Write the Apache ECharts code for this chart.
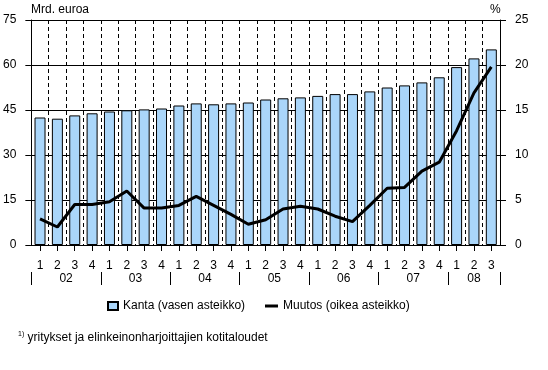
<!DOCTYPE html>
<html><head><meta charset="utf-8">
<script src="https://cdn.jsdelivr.net/npm/echarts@6/dist/echarts.min.js"></script>
<style>html,body{margin:0;padding:0;background:#fff}#c{width:548px;height:370px}</style>
</head><body><div id="c"></div>
<script>
var quarters = ['1','2','3','4','1','2','3','4','1','2','3','4','1','2','3','4','1','2','3','4','1','2','3','4','1','2','3'];
var years = ['02','03','04','05','06','07','08'];
var kanta = [42.5, 42.1, 43.2, 43.9, 44.5, 44.9, 45.2, 45.5, 46.5, 47.2, 46.9, 47.2, 47.5, 48.5, 48.9, 49.2, 49.7, 50.3, 50.3, 51.2, 52.5, 53.2, 54.2, 55.9, 59.3, 62.2, 65.2];
var muutos = [2.9, 2.0, 4.5, 4.5, 4.8, 6.0, 4.1, 4.1, 4.4, 5.4, 4.4, 3.4, 2.3, 2.8, 4.0, 4.3, 4.0, 3.2, 2.6, 4.4, 6.3, 6.4, 8.2, 9.2, 12.7, 16.9, 19.8];
var leftTicks = [0, 15, 30, 45, 60, 75];
var rightTicks = [0, 5, 10, 15, 20, 25];
var nameKanta = 'Kanta (vasen asteikko)';
var nameMuutos = 'Muutos (oikea asteikko)';

// year boundaries derived from the quarter list
var bounds = [];
quarters.forEach(function (q, i) { if (q === '1') bounds.push(i); });
bounds.push(quarters.length);
var yearCenters = [];
for (var k = 0; k < years.length; k++) yearCenters.push((bounds[k] + bounds[k + 1]) / 2);
var boundaryPoints = [];
for (var b = 0; b <= quarters.length; b++) boundaryPoints.push(String(b));

var FONT = 'Liberation Sans, Arial, sans-serif';
var chart = echarts.init(document.getElementById('c'), null, {renderer: 'canvas'});
chart.setOption({
  animation: false,
  backgroundColor: '#ffffff',
  textStyle: {fontFamily: FONT, color: '#000'},
  title: [
    {text: 'Mrd. euroa', left: 31, top: 4, padding: 0, textStyle: {fontFamily: FONT, fontSize: 12, fontWeight: 'normal', color: '#000'}},
    {text: '%', left: 490, top: 4, padding: 0, textStyle: {fontFamily: FONT, fontSize: 12, fontWeight: 'normal', color: '#000'}},
    {text: '{s|1)} yritykset ja elinkeinonharjoittajien kotitaloudet', left: 18, top: 331, padding: 0,
      textStyle: {fontFamily: FONT, fontSize: 12, fontWeight: 'normal', color: '#000',
        rich: {s: {fontSize: 7, verticalAlign: 'top', padding: [0, 0, 6, 0], fontFamily: FONT, color: '#000'}}}}
  ],
  legend: [
    {data: [{name: nameKanta, icon: 'rect'}], left: 107, top: 300, padding: 0, itemWidth: 10, itemHeight: 8, itemGap: 3,
      textStyle: {fontFamily: FONT, fontSize: 12, color: '#000'}},
    {data: [{name: nameMuutos, icon: 'rect'}], left: 265, top: 300, padding: 0, itemWidth: 13, itemHeight: 3, itemGap: 3,
      textStyle: {fontFamily: FONT, fontSize: 12, color: '#000'}}
  ],
  grid: {left: 29, right: 48, top: 20, bottom: 125, containLabel: false},
  xAxis: [
    {type: 'category', data: quarters, boundaryGap: true,
      axisLine: {show: true, lineStyle: {color: '#000', width: 1}},
      axisTick: {show: true, alignWithLabel: true, length: 6, lineStyle: {color: '#000'}},
      axisLabel: {interval: 0, margin: 15, fontSize: 12, color: '#000', fontFamily: FONT},
      splitLine: {show: true, interval: 0, lineStyle: {color: '#000', type: [4, 3], width: 1}}},
    {type: 'value', min: 0, max: quarters.length, position: 'bottom', offset: 27,
      axisLine: {show: false},
      axisTick: {show: false},
      axisLabel: {show: true, customValues: yearCenters, margin: 1, fontSize: 12, color: '#000', fontFamily: FONT,
        formatter: function (v) { var i = yearCenters.indexOf(v); return i >= 0 ? years[i] : ''; }},
      splitLine: {show: false}},
    {type: 'category', data: boundaryPoints, boundaryGap: false, position: 'bottom', offset: 27,
      axisLine: {show: false},
      axisTick: {show: true, length: 13, lineStyle: {color: '#000', width: 1},
        interval: function (idx) { return bounds.indexOf(idx) >= 0; }},
      axisLabel: {show: false},
      splitLine: {show: false}}
  ],
  yAxis: [
    {type: 'value', min: leftTicks[0], max: leftTicks[leftTicks.length - 1], interval: leftTicks[1] - leftTicks[0], position: 'left',
      axisLine: {show: true, lineStyle: {color: '#000'}},
      axisTick: {show: true, length: 6, lineStyle: {color: '#000'}},
      axisLabel: {margin: 15, fontSize: 12, color: '#000', fontFamily: FONT},
      splitLine: {show: true, lineStyle: {color: '#000', width: 1}}},
    {type: 'value', min: rightTicks[0], max: rightTicks[rightTicks.length - 1], interval: rightTicks[1] - rightTicks[0], position: 'right',
      axisLine: {show: true, lineStyle: {color: '#000'}},
      axisTick: {show: true, length: 6, lineStyle: {color: '#000'}},
      axisLabel: {margin: 15, fontSize: 12, color: '#000', fontFamily: FONT},
      splitLine: {show: false}}
  ],
  series: [
    {name: nameKanta, type: 'bar', xAxisIndex: 0, yAxisIndex: 0, data: kanta, barWidth: 11,
      itemStyle: {color: '#aad6fa', borderColor: '#000', borderWidth: 1}},
    {name: nameMuutos, type: 'line', xAxisIndex: 0, yAxisIndex: 1, data: muutos, symbol: 'none', z: 5,
      lineStyle: {color: '#000', width: 3}, itemStyle: {color: '#000'}}
  ]
});
</script></body></html>
